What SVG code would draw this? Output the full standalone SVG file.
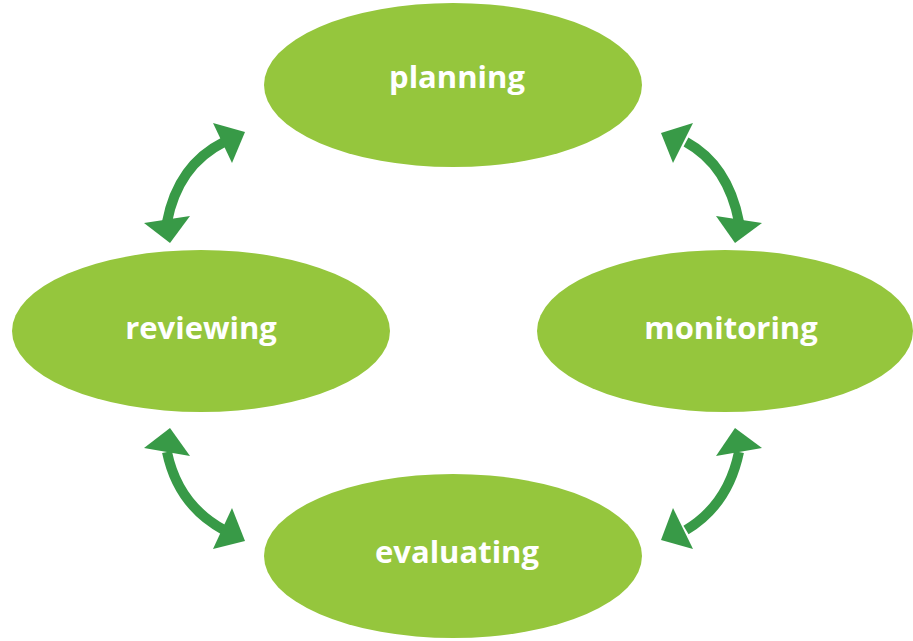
<svg xmlns="http://www.w3.org/2000/svg" width="913" height="641" viewBox="0 0 913 641">
<style>
.node{fill:#95C63D}
.lbl{font-family:"Open Sans","Liberation Sans",sans-serif;font-weight:bold;font-size:31px;fill:#ffffff;text-anchor:middle}
.shaft{fill:none;stroke:#389A47;stroke-width:10}
.head{fill:#389A47}
</style>
<rect width="913" height="641" fill="#ffffff"/>
<g id="planning"><ellipse class="node" cx="453" cy="85" rx="189" ry="82"/><text class="lbl" x="457" y="88">planning</text></g>
<g id="reviewing"><ellipse class="node" cx="201" cy="331" rx="189" ry="81"/><text class="lbl" x="201" y="339">reviewing</text></g>
<g id="monitoring"><ellipse class="node" cx="725" cy="331" rx="188" ry="81"/><text class="lbl" x="731" y="339">monitoring</text></g>
<g id="evaluating"><ellipse class="node" cx="453" cy="556" rx="189" ry="82"/><text class="lbl" x="457" y="563">evaluating</text></g>
<g id="connectors">
<path class="shaft" d="M167,222 Q178,165 224,142"/>
<polygon class="head" points="170,243 144,223 190,216"/>
<polygon class="head" points="245,132 213,123 232,163"/>
<path class="shaft" d="M686,142 Q728,165 739,222"/>
<polygon class="head" points="661,133 693,123 673,163"/>
<polygon class="head" points="735,243 716,216 762,223"/>
<path class="shaft" d="M167,452 Q178,505 224,530"/>
<polygon class="head" points="170,428 144,448 190,456"/>
<polygon class="head" points="245,541 213,549 232,508"/>
<path class="shaft" d="M739,452 Q728,505 686,530"/>
<polygon class="head" points="735,428 716,456 762,448"/>
<polygon class="head" points="661,540 673,508 693,549"/>
</g>
</svg>
